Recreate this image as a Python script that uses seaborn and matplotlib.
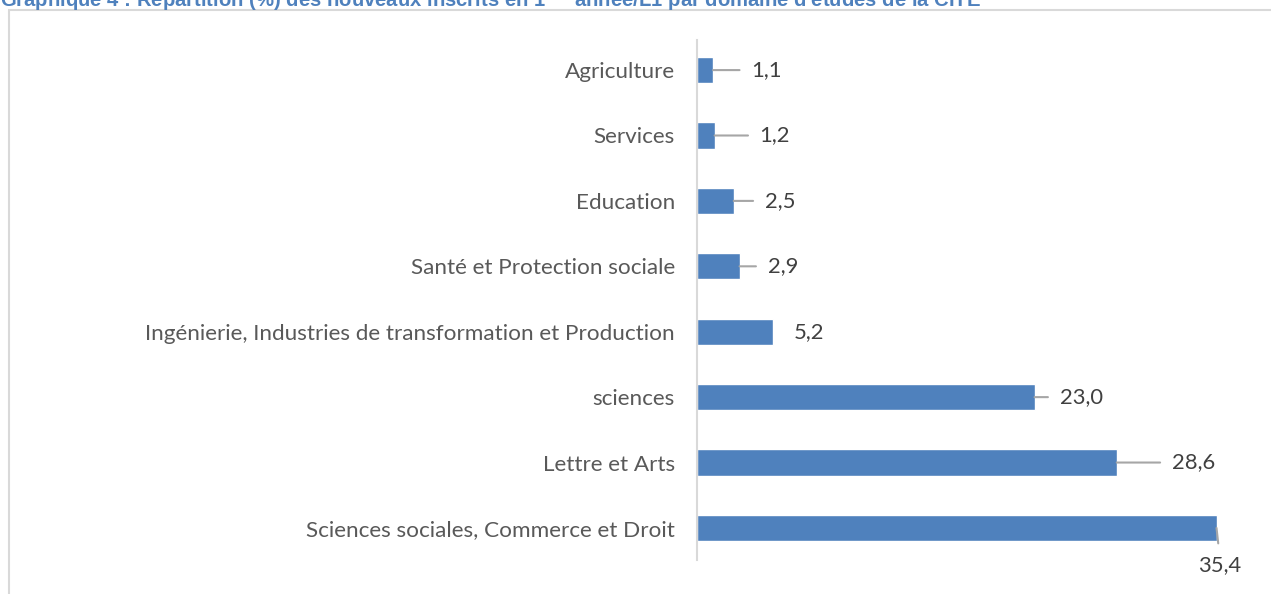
import matplotlib
matplotlib.use("Agg")
import matplotlib.pyplot as plt
import matplotlib.patches as mpatches
import seaborn as sns
import pandas as pd

# Data
categories = ["Agriculture", "Services", "Education", "Santé et Protection sociale",
              "Ingénierie, Industries de transformation et Production", "sciences",
              "Lettre et Arts", "Sciences sociales, Commerce et Droit"]
values = [1.1, 1.2, 2.5, 2.9, 5.2, 23.0, 28.6, 35.4]
value_labels = ["1,1", "1,2", "2,5", "2,9", "5,2", "23,0", "28,6", "35,4"]

title = ("Graphique 4 : Répartition (%) des nouveaux inscrits en 1$^{ère}$ année/L1 "
         "par domaine d'études de la CITE")

df = pd.DataFrame({"domaine": categories, "part": values})

sns.set_theme(style="white")
plt.rcParams['font.family'] = ['Lato', 'DejaVu Sans']

fig = plt.figure(figsize=(12.71, 5.94), dpi=100)
ax = fig.add_axes([697 / 1271, 1 - 560 / 594, 543 / 1271, 520 / 594])

sns.barplot(data=df, x="part", y="domaine", orient="h", color="#4F81BD",
            saturation=1, width=0.4, ax=ax)

ax.set_xlim(0, 37)
ax.set_ylim(7.49, -0.46)
ax.set_xlabel("")
ax.set_ylabel("")
ax.set_xticks([])
for s in ["top", "right", "bottom"]:
    ax.spines[s].set_visible(False)
ax.spines["left"].set_color("#D9D9D9")
ax.spines["left"].set_linewidth(1.5)
ax.tick_params(axis="y", length=0, pad=16, labelsize=16.2, labelcolor="#595959")

# label offsets (pixels) from the bar end, and whether a leader line is drawn
offsets = [(38, 0), (45, 0), (31, 0), (28, 0), (20, 0), (25, 0), (55, 0), (3, -37)]
leaders = [True, True, True, True, False, True, True, True]

for i, (v, lab) in enumerate(zip(values, value_labels)):
    dx, dy = offsets[i]
    below = dy != 0
    arrow = None
    if leaders[i]:
        arrow = dict(arrowstyle="-", color="#A6A6A6", lw=1.5,
                     shrinkA=6 if not below else 6, shrinkB=0,
                     relpos=(0, 0.5) if not below else (0.5, 1))
    ax.annotate(lab, xy=(v, i), xytext=(dx, dy), textcoords="offset pixels",
                ha="center" if below else "left", va="center",
                fontsize=15.8, color="#404040", arrowprops=arrow)

# chart frame and title (cut at the top edge, as in the source)
fig.patches.append(mpatches.Rectangle((9 / 1271, -0.05), 1.1, 1.05 - 10 / 594,
                                      transform=fig.transFigure, fill=False,
                                      edgecolor="#D9D9D9", lw=1.5))
fig.text(0.0, 1 - 6.5 / 594, title, fontsize=14.6, fontweight="bold", color="#4F81BD",
         ha="left", va="baseline", family=["Liberation Sans", "DejaVu Sans"])

fig.savefig("out.png", dpi=100)
